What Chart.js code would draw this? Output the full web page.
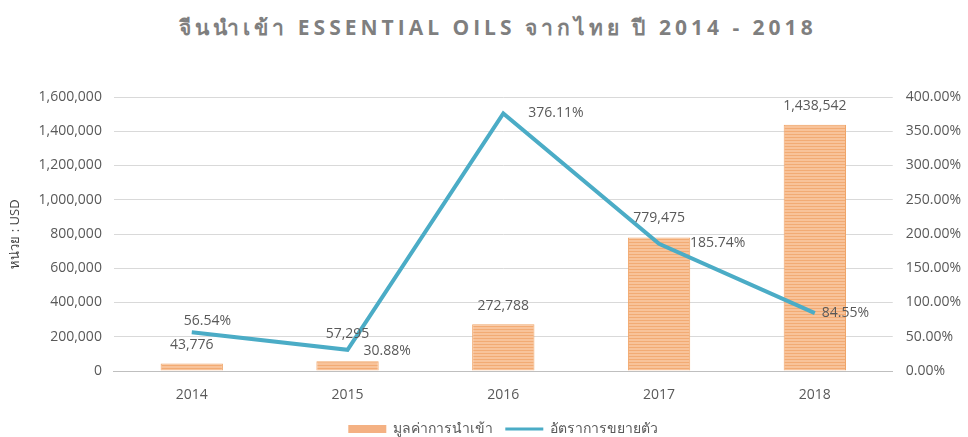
<!DOCTYPE html>
<html lang="th">
<head>
<meta charset="utf-8">
<script src="https://cdn.jsdelivr.net/npm/chart.js@4.4.1/dist/chart.umd.min.js"></script>
<style>
  body { margin: 0; background: #fff; }
  #wrap { position: relative; width: 968px; height: 437px; }
  #titulo {
    position: absolute; top: 11px; left: 0; width: 968px;
    padding-left: 28px; box-sizing: border-box; text-align: center;
    font: bold 21px "Open Sans", sans-serif; letter-spacing: 4px; color: #7f7f7f;
  }
  canvas { position: absolute; top: 0; left: 0; }
</style>
</head>
<body>
<div id="wrap">
  <div id="titulo">จีนนำเข้า ESSENTIAL OILS จากไทย ปี 2014 - 2018</div>
  <canvas id="grafico" width="968" height="437"></canvas>
</div>
<script>
// Datos del gráfico
const anios = ["2014", "2015", "2016", "2017", "2018"];
const valores = [43776, 57295, 272788, 779475, 1438542];
const crecimiento = [56.54, 30.88, 376.11, 185.74, 84.55];

// Posición de las etiquetas (px), aparte de los datos
const subidaEtiqueta = [18, 27, 18, 19, 19];
const desplazLinea = [[-8, -11], [16, 1], [25, 0], [31, -1], [7, 0]];

const FUENTE = '"Open Sans", sans-serif';
const GRIS = '#595959';

function crearRayas(ctx) {
  const c = document.createElement('canvas');
  c.width = 4; c.height = 3;
  const g = c.getContext('2d');
  g.fillStyle = '#F8C39A'; g.fillRect(0, 0, 4, 3);
  g.fillStyle = '#F2AB74'; g.fillRect(0, 2, 4, 1);
  return ctx.createPattern(c, 'repeat');
}

const etiquetas = {
  id: 'etiquetas',
  afterDatasetsDraw(chart) {
    const ctx = chart.ctx;
    ctx.save();
    ctx.font = '14px ' + FUENTE;
    ctx.fillStyle = GRIS;
    ctx.textBaseline = 'middle';
    ctx.textAlign = 'center';
    chart.getDatasetMeta(0).data.forEach((bar, i) => {
      ctx.fillText(valores[i].toLocaleString('en-US'), bar.x, bar.y - subidaEtiqueta[i]);
    });
    ctx.textAlign = 'left';
    chart.getDatasetMeta(1).data.forEach((pt, i) => {
      const [dx, dy] = desplazLinea[i];
      ctx.fillText(crecimiento[i].toFixed(2) + '%', pt.x + dx, pt.y + dy);
    });
    ctx.restore();
  }
};

const ctx = document.getElementById('grafico').getContext('2d');

new Chart(ctx, {
  type: 'bar',
  data: {
    labels: anios,
    datasets: [
      {
        label: 'มูลค่าการนำเข้า',
        data: valores,
        backgroundColor: crearRayas(ctx),
        borderColor: '#F0A568',
        borderWidth: 1,
        categoryPercentage: 0.5,
        barPercentage: 0.8,
        yAxisID: 'y',
        order: 2
      },
      {
        type: 'line',
        label: 'อัตราการขยายตัว',
        data: crecimiento,
        borderColor: '#4BACC6',
        backgroundColor: '#4BACC6',
        borderWidth: 4,
        pointRadius: 0,
        tension: 0,
        yAxisID: 'y1',
        order: 1
      }
    ]
  },
  options: {
    responsive: false,
    animation: false,
    layout: { padding: { top: 97, right: -6, left: 3, bottom: -9 } },
    plugins: {
      tooltip: { enabled: false },
      legend: {
        position: 'bottom',
        fullSize: false,
        labels: {
          usePointStyle: true,
          pointStyleWidth: 38,
          boxHeight: 8,
          color: GRIS,
          font: { family: FUENTE, size: 14 },
          padding: 12,
          sort: (a, b) => a.datasetIndex - b.datasetIndex,
          generateLabels(chart) {
            const items = Chart.defaults.plugins.legend.labels.generateLabels(chart);
            items.forEach(it => {
              if (it.datasetIndex === 0) {
                it.pointStyle = 'rect';
                it.fillStyle = '#F4B183';
                it.strokeStyle = '#F4B183';
                it.lineWidth = 0;
              } else {
                it.pointStyle = 'line';
                it.strokeStyle = '#4BACC6';
                it.lineWidth = 3;
              }
            });
            return items;
          }
        }
      }
    },
    scales: {
      x: {
        grid: { display: false },
        border: { color: '#BFBFBF' },
        ticks: { color: GRIS, padding: 8, font: { family: FUENTE, size: 14 } },
        afterFit: scale => { scale.height = 39; }
      },
      y: {
        position: 'left',
        min: 0,
        max: 1600000,
        grid: { color: '#D9D9D9', drawTicks: false },
        border: { display: false },
        ticks: {
          stepSize: 200000,
          color: GRIS,
          padding: 12,
          font: { family: FUENTE, size: 14 },
          callback: v => v.toLocaleString('en-US')
        },
        title: {
          display: true,
          text: 'หน่วย : USD',
          color: '#404040',
          font: { family: FUENTE, size: 13 }
        }
      },
      y1: {
        position: 'right',
        min: 0,
        max: 400,
        grid: { display: false, drawTicks: false },
        border: { display: false },
        ticks: {
          stepSize: 50,
          color: GRIS,
          padding: 13,
          font: { family: FUENTE, size: 14 },
          callback: v => v.toFixed(2) + '%'
        }
      }
    }
  },
  plugins: [etiquetas]
});
</script>
</body>
</html>
